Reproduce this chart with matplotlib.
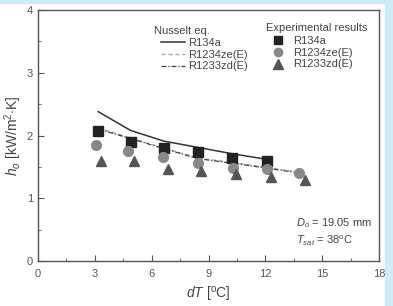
import matplotlib
matplotlib.use("Agg")
import matplotlib.pyplot as plt
from matplotlib.patches import Rectangle
from matplotlib.lines import Line2D

plt.rcParams["font.family"] = ["Liberation Sans", "DejaVu Sans"]
plt.rcParams["mathtext.fontset"] = "custom"
plt.rcParams["mathtext.rm"] = "Liberation Sans"
plt.rcParams["mathtext.it"] = "Liberation Sans:italic"

# Nusselt equation predictions
nu_x = [3.18, 4.89, 6.65, 8.45, 10.24, 12.07]
nu_r134a = [2.38, 2.08, 1.91, 1.81, 1.71, 1.62]
nu_ze_x = [3.2, 4.9, 6.65, 8.45, 10.24, 12.07, 13.9]
nu_ze = [2.12, 1.96, 1.80, 1.64, 1.57, 1.49, 1.41]
nu_zd_x = [3.2, 4.9, 6.65, 8.45, 10.24, 12.07, 14.1]
nu_zd = [2.10, 1.95, 1.79, 1.63, 1.56, 1.48, 1.39]

# experimental results
ex_r134a_x = [3.18, 4.89, 6.65, 8.45, 10.24, 12.07]
ex_r134a = [2.07, 1.89, 1.80, 1.73, 1.64, 1.60]
ex_ze_x = [3.05, 4.77, 6.62, 8.47, 10.28, 12.11, 13.8]
ex_ze = [1.85, 1.75, 1.65, 1.56, 1.48, 1.46, 1.40]
ex_zd_x = [3.31, 5.07, 6.86, 8.59, 10.45, 12.28, 14.11]
ex_zd = [1.59, 1.60, 1.47, 1.43, 1.38, 1.34, 1.29]

labels = ["R134a", "R1234ze(E)", "R1233zd(E)"]

grey = "#444444"
fig = plt.figure(figsize=(3.93, 3.06), dpi=100)
fig.patches.append(Rectangle((0, 0.99), 1, 0.01, transform=fig.transFigure,
                             color="#cdeef9", zorder=0))
fig.patches.append(Rectangle((0.98, 0), 0.02, 1, transform=fig.transFigure,
                             color="#cdeef9", zorder=0))
ax = fig.add_axes([38 / 393, 45 / 306, 341 / 393, 251 / 306])

ze_dash = (3, 2)
zd_dash = (4, 1.5, 1, 1.5)
ax.plot(nu_x, nu_r134a, "-", color="#333333", lw=1.1)
ax.plot(nu_ze_x, nu_ze, "--", color="#aaaaaa", lw=1.0, dashes=ze_dash)
ax.plot(nu_zd_x, nu_zd, "-.", color="#444444", lw=0.9, dashes=zd_dash)
ax.plot(ex_r134a_x, ex_r134a, "s", color="#222222", ms=6.5, ls="none")
ax.plot(ex_ze_x, ex_ze, "o", color="#888888", ms=7, ls="none")
ax.plot(ex_zd_x, ex_zd, "^", color="#555555", ms=7.5, ls="none")

ax.set_xlim(0, 18)
ax.set_ylim(0, 4)
ax.set_xticks(range(0, 19, 3))
ax.set_xticks([1.5 + 3 * i for i in range(6)], minor=True)
ax.set_yticks(range(0, 5))
ax.set_yticks([0.5 + i for i in range(4)], minor=True)
ax.tick_params(which="both", direction="in", colors="#555555",
               labelcolor="#555555", labelsize=8)
ax.tick_params(which="major", length=4)
ax.tick_params(which="minor", length=2)
ax.tick_params(axis="x", pad=6)
for s in ax.spines.values():
    s.set_color("#555555")
    s.set_linewidth(1.0)

ax.set_xlabel(r"$dT$ [$^{\rm o}$C]", fontsize=10, color=grey, labelpad=4)
ax.set_ylabel(r"$h_o$ [kW/m$^2$$\cdot$K]", fontsize=10, color=grey, labelpad=2)

# Nusselt legend
ax.text(0.340, 0.916, "Nusselt eq.", transform=ax.transAxes, fontsize=8,
        color=grey, va="center", ha="left")
nu_handles = [Line2D([], [], color="#333333", lw=1.1),
              Line2D([], [], color="#aaaaaa", lw=1.0, ls="--", dashes=ze_dash),
              Line2D([], [], color="#444444", lw=0.9, ls="-.", dashes=zd_dash)]
leg1 = ax.legend(nu_handles, labels, loc="upper left",
                 bbox_to_anchor=(0.361, 0.888), frameon=False, fontsize=8,
                 handlelength=2.16, handletextpad=0.27,
                 labelspacing=0.15, borderpad=0, borderaxespad=0,
                 labelcolor=grey)
ax.add_artist(leg1)

# experimental legend
ax.text(0.669, 0.928, "Experimental results", transform=ax.transAxes,
        fontsize=8, color=grey, va="center", ha="left")
ex_handles = [Line2D([], [], marker="s", color="#222222", ms=6, ls="none"),
              Line2D([], [], marker="o", color="#888888", ms=6, ls="none"),
              Line2D([], [], marker="^", color="#555555", ms=6.5, ls="none")]
ax.legend(ex_handles, labels, loc="upper left",
          bbox_to_anchor=(0.688, 0.896), frameon=False, fontsize=8,
          handlelength=1.0, handletextpad=0.85, labelspacing=0.15,
          borderpad=0, borderaxespad=0, labelcolor=grey)

ax.text(0.757, 0.151, r"$D_o$ = 19.05 mm", transform=ax.transAxes,
        fontsize=8, color=grey, va="center")
ax.text(0.757, 0.080, r"$T_{sat}$ = 38$^{\rm o}$C", transform=ax.transAxes,
        fontsize=8, color=grey, va="center")

fig.savefig("out.png", dpi=100)
